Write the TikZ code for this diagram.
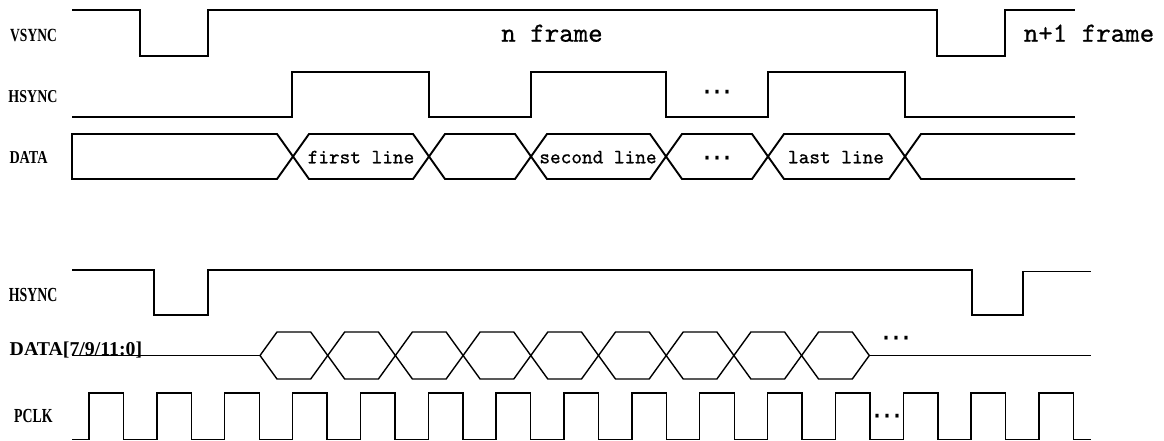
\documentclass[tikz,border=0pt]{standalone}
\usepackage{fontspec}
\newfontfamily\labfont{Liberation Serif}
\newfontfamily\txtfont[FakeBold=0.7]{lmmono10-regular.otf}
\newfontfamily\dotfont{DejaVu Sans}
\newcommand{\siglab}[3]{\resizebox{#1pt}{#2pt}{\labfont\bfseries #3}}
\begin{document}
\begin{tikzpicture}[x=1pt,y=-1pt,
  wave/.style={line width=1.9pt,line join=miter},
  thin wave/.style={line width=1.4pt,line join=miter},
  sig/.style={inner sep=0pt,anchor=base west},
  big/.style={inner sep=0pt,anchor=base,font=\txtfont\fontsize{27.6}{30}\selectfont},
  cell/.style={inner sep=0pt,anchor=base,font=\txtfont\fontsize{20.3}{22}\selectfont},
  dots/.style={inner sep=0pt,anchor=center,font=\dotfont\fontsize{30}{32}\selectfont}]
\useasboundingbox (0,0) rectangle (1164,441);
% ---------- labels ----------
\node[sig] (lv) at (10,41.7) {\siglab{46.7}{12.3}{VSYNC}};
\node[sig] (lh) at (8.3,102.3) {\siglab{49}{12}{HSYNC}};
\node[sig] (ld) at (9.3,163.3) {\siglab{38}{12}{DATA}};
\node[sig] (lh2) at (8.7,301.7) {\siglab{48.6}{13.2}{HSYNC}};
\node[sig] (ld2) at (9.5,355) {\siglab{132.5}{13.6}{DATA[7/9/11:0]}};
\node[sig] (lp) at (14,422.7) {\siglab{38.3}{13.2}{PCLK}};
% ---------- top VSYNC ----------
\draw[wave] (72,10) -- (140,10) -- (140,56) -- (208,56) -- (208,10) -- (937,10)
  -- (937,56) -- (1005,56) -- (1005,10) -- (1075,10);
\node[big] (nf) at (552,41.7) {n frame};
\node[big] (nf1) at (1089,41.7) {n+1 frame};
% ---------- top HSYNC ----------
\draw[wave] (72,117) -- (292,117) -- (292,72) -- (429,72) -- (429,117) -- (531,117)
  -- (531,72) -- (666,72) -- (666,117) -- (768,117) -- (768,72) -- (905,72)
  -- (905,117) -- (1075,117);
\node[dots] (hd) at (717,95.5) {⋯};
% ---------- top DATA ----------
\draw[wave] (293,156.5) -- (277,134) -- (72,134) -- (72,179) -- (277,179) -- cycle;
\foreach \a/\b in {293/429,429/531,531/666,666/768,768/905}
  \draw[wave] (\a,156.5) -- (\a+16,134) -- (\b-16,134) -- (\b,156.5)
     -- (\b-16,179) -- (\a+16,179) -- cycle;
\draw[wave] (1075,134) -- (921,134) -- (905,156.5) -- (921,179) -- (1075,179);
\node[cell] (c1) at (361,163.3) {first line};
\node[cell] (c2) at (598,163.3) {second line};
\node[dots] (c3) at (717,161.5) {⋯};
\node[cell] (c4) at (836,163.3) {last line};
% ---------- bottom HSYNC ----------
\draw[wave] (72,270) -- (154,270) -- (154,315) -- (208,315) -- (208,270) -- (972,270)
  -- (972,315) -- (1023,315) -- (1023,271.5) -- (1091,271.5);
% ---------- bottom DATA ----------
\draw[thin wave] (72,355.5) -- (260,355.5);
\foreach \k in {0,...,8}
  \draw[thin wave] ({260+67.7*\k},355.5) -- ({277+67.7*\k},332) -- ({310.7+67.7*\k},332)
     -- ({327.7+67.7*\k},355.5) -- ({310.7+67.7*\k},379) -- ({277+67.7*\k},379) -- cycle;
\draw[thin wave] (869.3,355.5) -- (1091,355.5);
\node[dots] (dd) at (896,342) {⋯};
% ---------- PCLK ----------
\draw[thin wave] (72,439.5)
  \foreach \k in {0,...,14}{ -- ({89+67.86*\k},439.5) -- ({89+67.86*\k},393)
     -- ({123.5+67.86*\k},393) -- ({123.5+67.86*\k},439.5)} -- (1091,439.5);
\node[dots] (pd) at (887,420) {⋯};
\end{tikzpicture}
\end{document}
